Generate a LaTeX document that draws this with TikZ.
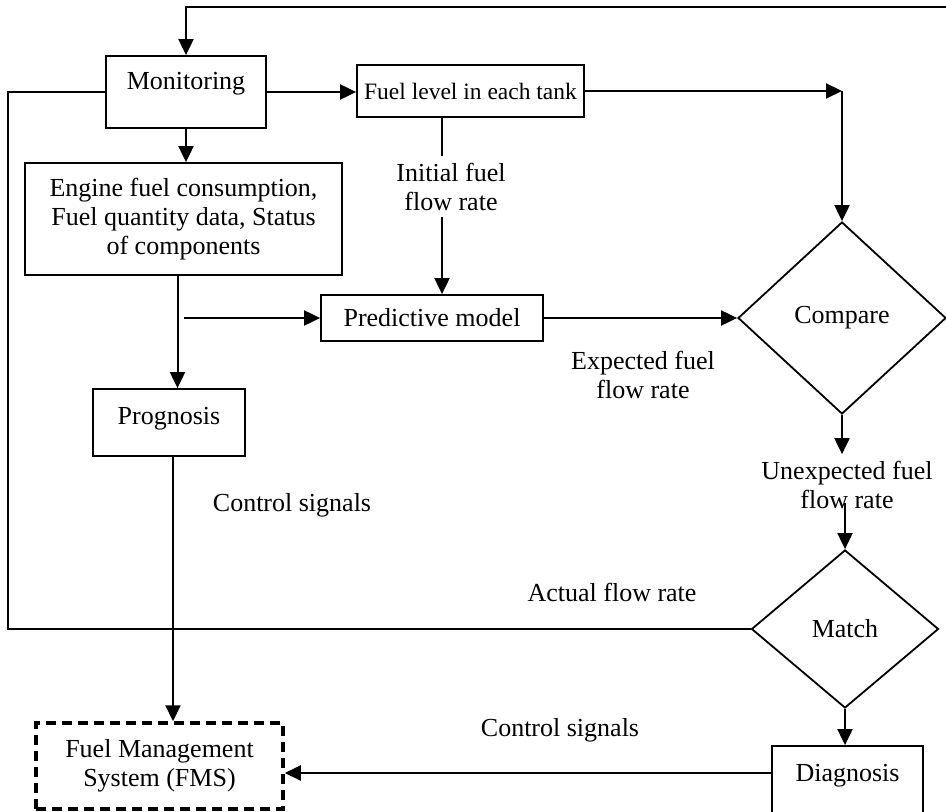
\documentclass[tikz,border=0pt]{standalone}
\usepackage{fontspec}
\setmainfont{Liberation Serif}
\usetikzlibrary{positioning, arrows.meta, shapes.geometric}

\tikzset{
  box/.style={draw, line width=0.9pt, inner sep=2pt, align=center},
  decision/.style={diamond, draw, line width=0.9pt, inner sep=0pt},
  arr/.style={-{Triangle[length=8pt, width=7.5pt]}, line width=1pt},
  link/.style={line width=0.8pt},
  lbl/.style={align=center}
}

\begin{document}
\begin{tikzpicture}[x=0.5pt, y=-0.5pt, font=\fontsize{13}{14.5}\selectfont]
    \useasboundingbox (0,0) rectangle (946,812);

    % Blocks
    \node[box, minimum width=80pt, minimum height=36pt, text height=9pt, text depth=11pt] (mon) at (186,92) {Monitoring};
    \node[box, minimum width=113.5pt, minimum height=26pt, font=\fontsize{11.75}{14}\selectfont] (fuel) at (470.5,91) {Fuel level in each tank};
    \node[box, minimum width=158.5pt, minimum height=56pt] (eng) at (183.5,219) {Engine fuel consumption,\\Fuel quantity data, Status\\of components};
    \node[box, minimum width=111pt, minimum height=23pt] (pred) at (432,318) {Predictive model};
    \node[box, minimum width=76pt, minimum height=33.5pt, text height=9pt, text depth=7.5pt] (prog) at (169,422.5) {Prognosis};
    \node[box, line width=1.75pt, dash pattern=on 5pt off 3pt, minimum width=123.5pt, minimum height=43pt] (fms) at (159.5,766) {Fuel Management\\System (FMS)};
    \node[box, minimum width=75.5pt, minimum height=34pt, text height=9pt, text depth=8pt] (diag) at (847.5,780) {Diagnosis};

    % Decisions
    \node[decision, minimum width=104pt, minimum height=96pt] (cmp) at (842,318) {Compare};
    \node[decision, minimum width=93.5pt, minimum height=79pt] (match) at (845,629) {Match};

    % Labels
    \node[lbl] (expct) at (643,375) {Expected fuel\\flow rate};
    \node[lbl] (unexp) at (847,485) {Unexpected fuel\\flow rate};
    \node[lbl] (actual) at (612,592) {Actual flow rate};
    \node[lbl] (ctrlA) at (292,505) {Control signals};
    \node[lbl] (ctrlB) at (560,730) {Control signals};

    % Corners
    \coordinate (topR) at (946,7);
    \coordinate (cnr) at (842,88);
    \coordinate (lft) at (8,629);

    % Connectors
    \draw[arr] (topR) -- (topR -| mon.north) -- (mon.north);
    \draw[arr] (mon.east) -- (mon.east -| fuel.west);
    \draw[arr] (fuel.east) -- (fuel.east -| cnr);
    \draw[arr] (fuel.east -| cnr) -- (cmp.north);
    \draw[arr] ([xshift=5pt]pred.north |- fuel.south) -- node[lbl, fill=white, pos=0.39, xshift=4.5pt] (init) {Initial fuel\\flow rate} ([xshift=5pt]pred.north);
    \draw[arr] (mon.south) -- (mon.south |- eng.north);
    \draw[arr] ([xshift=-3pt]eng.south) -- ([xshift=-3pt]eng.south |- prog.north);
    \draw[arr] (eng.south |- pred.west) -- (pred.west);
    \draw[arr] (pred.east) -- (cmp.west);
    \draw[arr] (cmp.south) -- (cmp.south |- unexp.north);
    \draw[arr] ([yshift=6.5pt]unexp.south -| match.north) -- (match.north);
    \draw[arr] (match.south) -- (match.south |- diag.north);
    \draw[link] (match.west) -- (lft) |- (mon.west);
    \draw[arr] ([xshift=2pt]prog.south) -- ([xshift=2pt]prog.south |- fms.north);
    \draw[arr] ([yshift=3.5pt]diag.west) -- ([yshift=3.5pt]diag.west -| fms.east);
\end{tikzpicture}
\end{document}
